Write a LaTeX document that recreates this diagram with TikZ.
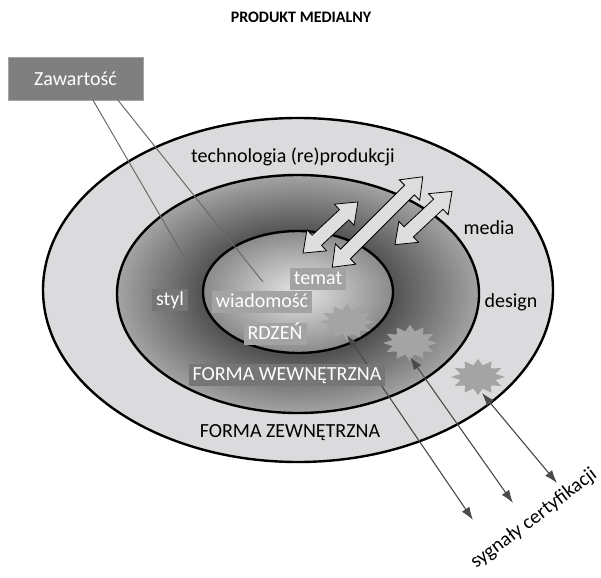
\documentclass[tikz,border=0pt]{standalone}
\usepackage{fontspec}
\setmainfont{Carlito}
\usetikzlibrary{shapes.geometric,shapes.arrows,arrows.meta}
\definecolor{outerring}{HTML}{DBDBDD}
\definecolor{zawfill}{HTML}{7F7F7F}
\definecolor{starfill}{HTML}{A4A4A4}
\definecolor{zawline}{HTML}{6A6A6A}
\definecolor{sigline}{HTML}{4A4A4A}
\definecolor{blockfill}{HTML}{DEDEDE}
\definecolor{lighttag}{HTML}{A3A3A3}
\definecolor{darktag}{HTML}{767676}
\pgfdeclareradialshading{formshade}{\pgfpoint{0bp}{0bp}}{color(0bp)=(black!68);color(13bp)=(black!68);color(25bp)=(black!36);color(50bp)=(black!36)}
\pgfdeclareradialshading{coreshade}{\pgfpoint{0bp}{0bp}}{color(0bp)=(black!10);color(25bp)=(black!46);color(50bp)=(black!46)}
\tikzset{
	ring/.style={draw=black, line width=2.4pt},
	ringtext/.style={font=\fontsize{20}{24}\selectfont, inner sep=0pt},
	tagbox/.style={font=\fontsize{20}{24}\selectfont, text=white, inner xsep=4pt, inner ysep=2pt, text height=14pt, text depth=4pt},
	zawbox/.style={draw=lighttag, fill=zawfill, text=white, font=\fontsize{20}{24}\selectfont, minimum width=135pt, minimum height=43pt},
	zawpath/.style={draw=zawline, line width=1pt},
	starburst/.style={star, star points=12, star point ratio=1.5, fill=starfill, inner sep=0pt, minimum size=36pt, xscale=1.5},
	blockarrow/.style={double arrow, draw=black, line width=0.8pt, fill=blockfill, inner xsep=0pt, inner ysep=6.5pt, double arrow head extend=7.5pt, double arrow tip angle=75},
	sigarrow/.style={<->, >={Latex[length=13pt,width=9pt]}, draw=sigline, line width=1.1pt}
}
\begin{document}
\begin{tikzpicture}[x=1pt, y=-1pt]
	\useasboundingbox (0,0) rectangle (601,577);
	\draw[ring, fill=outerring] (298,290) ellipse [x radius=255, y radius=172];
	\draw[ring, shade, shading=formshade] (298,294) ellipse [x radius=181, y radius=119];
	\draw[ring, shade, shading=coreshade] (298,292) ellipse [x radius=95, y radius=61];
	\draw node[font=\bfseries\fontsize{16}{19}\selectfont] (title) at (301,17) {PRODUKT MEDIALNY};
	\draw node[zawbox] (zaw) at (75.5,78.5) {Zawartość};
	\coordinate (zend1) at (183,255);
	\coordinate (zend2) at (263,282);
	\draw[zawpath] ([xshift=17.5pt]zaw.south) -- (zend1);
	\draw[zawpath] ([xshift=42.5pt]zaw.south) -- (zend2);
	\draw node[starburst] (s1) at (347,322) {};
	\draw node[starburst] (s2) at (410,343) {};
	\draw node[starburst] (s3) at (478,377) {};
	\draw node[blockarrow, minimum height=75pt, rotate=43] (bl) at (330.5,227.5) {};
	\draw node[blockarrow, minimum height=128pt, rotate=45] (bm) at (377.5,222) {};
	\draw node[blockarrow, minimum height=78pt, rotate=43] (br) at (423.5,218) {};
	\coordinate (t1) at (347,335);
	\coordinate (t2) at (410,357);
	\coordinate (t3) at (482,393);
	\coordinate (e1) at (473,520);
	\coordinate (e2) at (513,503);
	\coordinate (e3) at (557,483);
	\draw[sigarrow] (t1) -- (e1);
	\draw[sigarrow] (t2) -- (e2);
	\draw[sigarrow] (t3) -- (e3);
	\draw node[ringtext] (tech) at (293,157) {technologia (re)produkcji};
	\draw node[ringtext] (media) at (489,228) {media};
	\draw node[ringtext] (design) at (511,302) {design};
	\draw node[ringtext] (zewn) at (290,433) {FORMA ZEWNĘTRZNA};
	\draw node[tagbox, fill=darktag] (styl) at (170,300) {styl};
	\draw node[tagbox, fill=lighttag] (wiad) at (262,302) {wiadomość};
	\draw node[tagbox, fill=lighttag] (temat) at (318,279) {temat};
	\draw node[tagbox, fill=lighttag] (rdzen) at (275,334) {RDZEŃ};
	\draw node[tagbox, fill=darktag] (wewn) at (287,375) {FORMA WEWNĘTRZNA};
	\draw node[ringtext, rotate=37, anchor=base] (sygn) at (537,523) {sygnały certyfikacji};
\end{tikzpicture}
\end{document}
